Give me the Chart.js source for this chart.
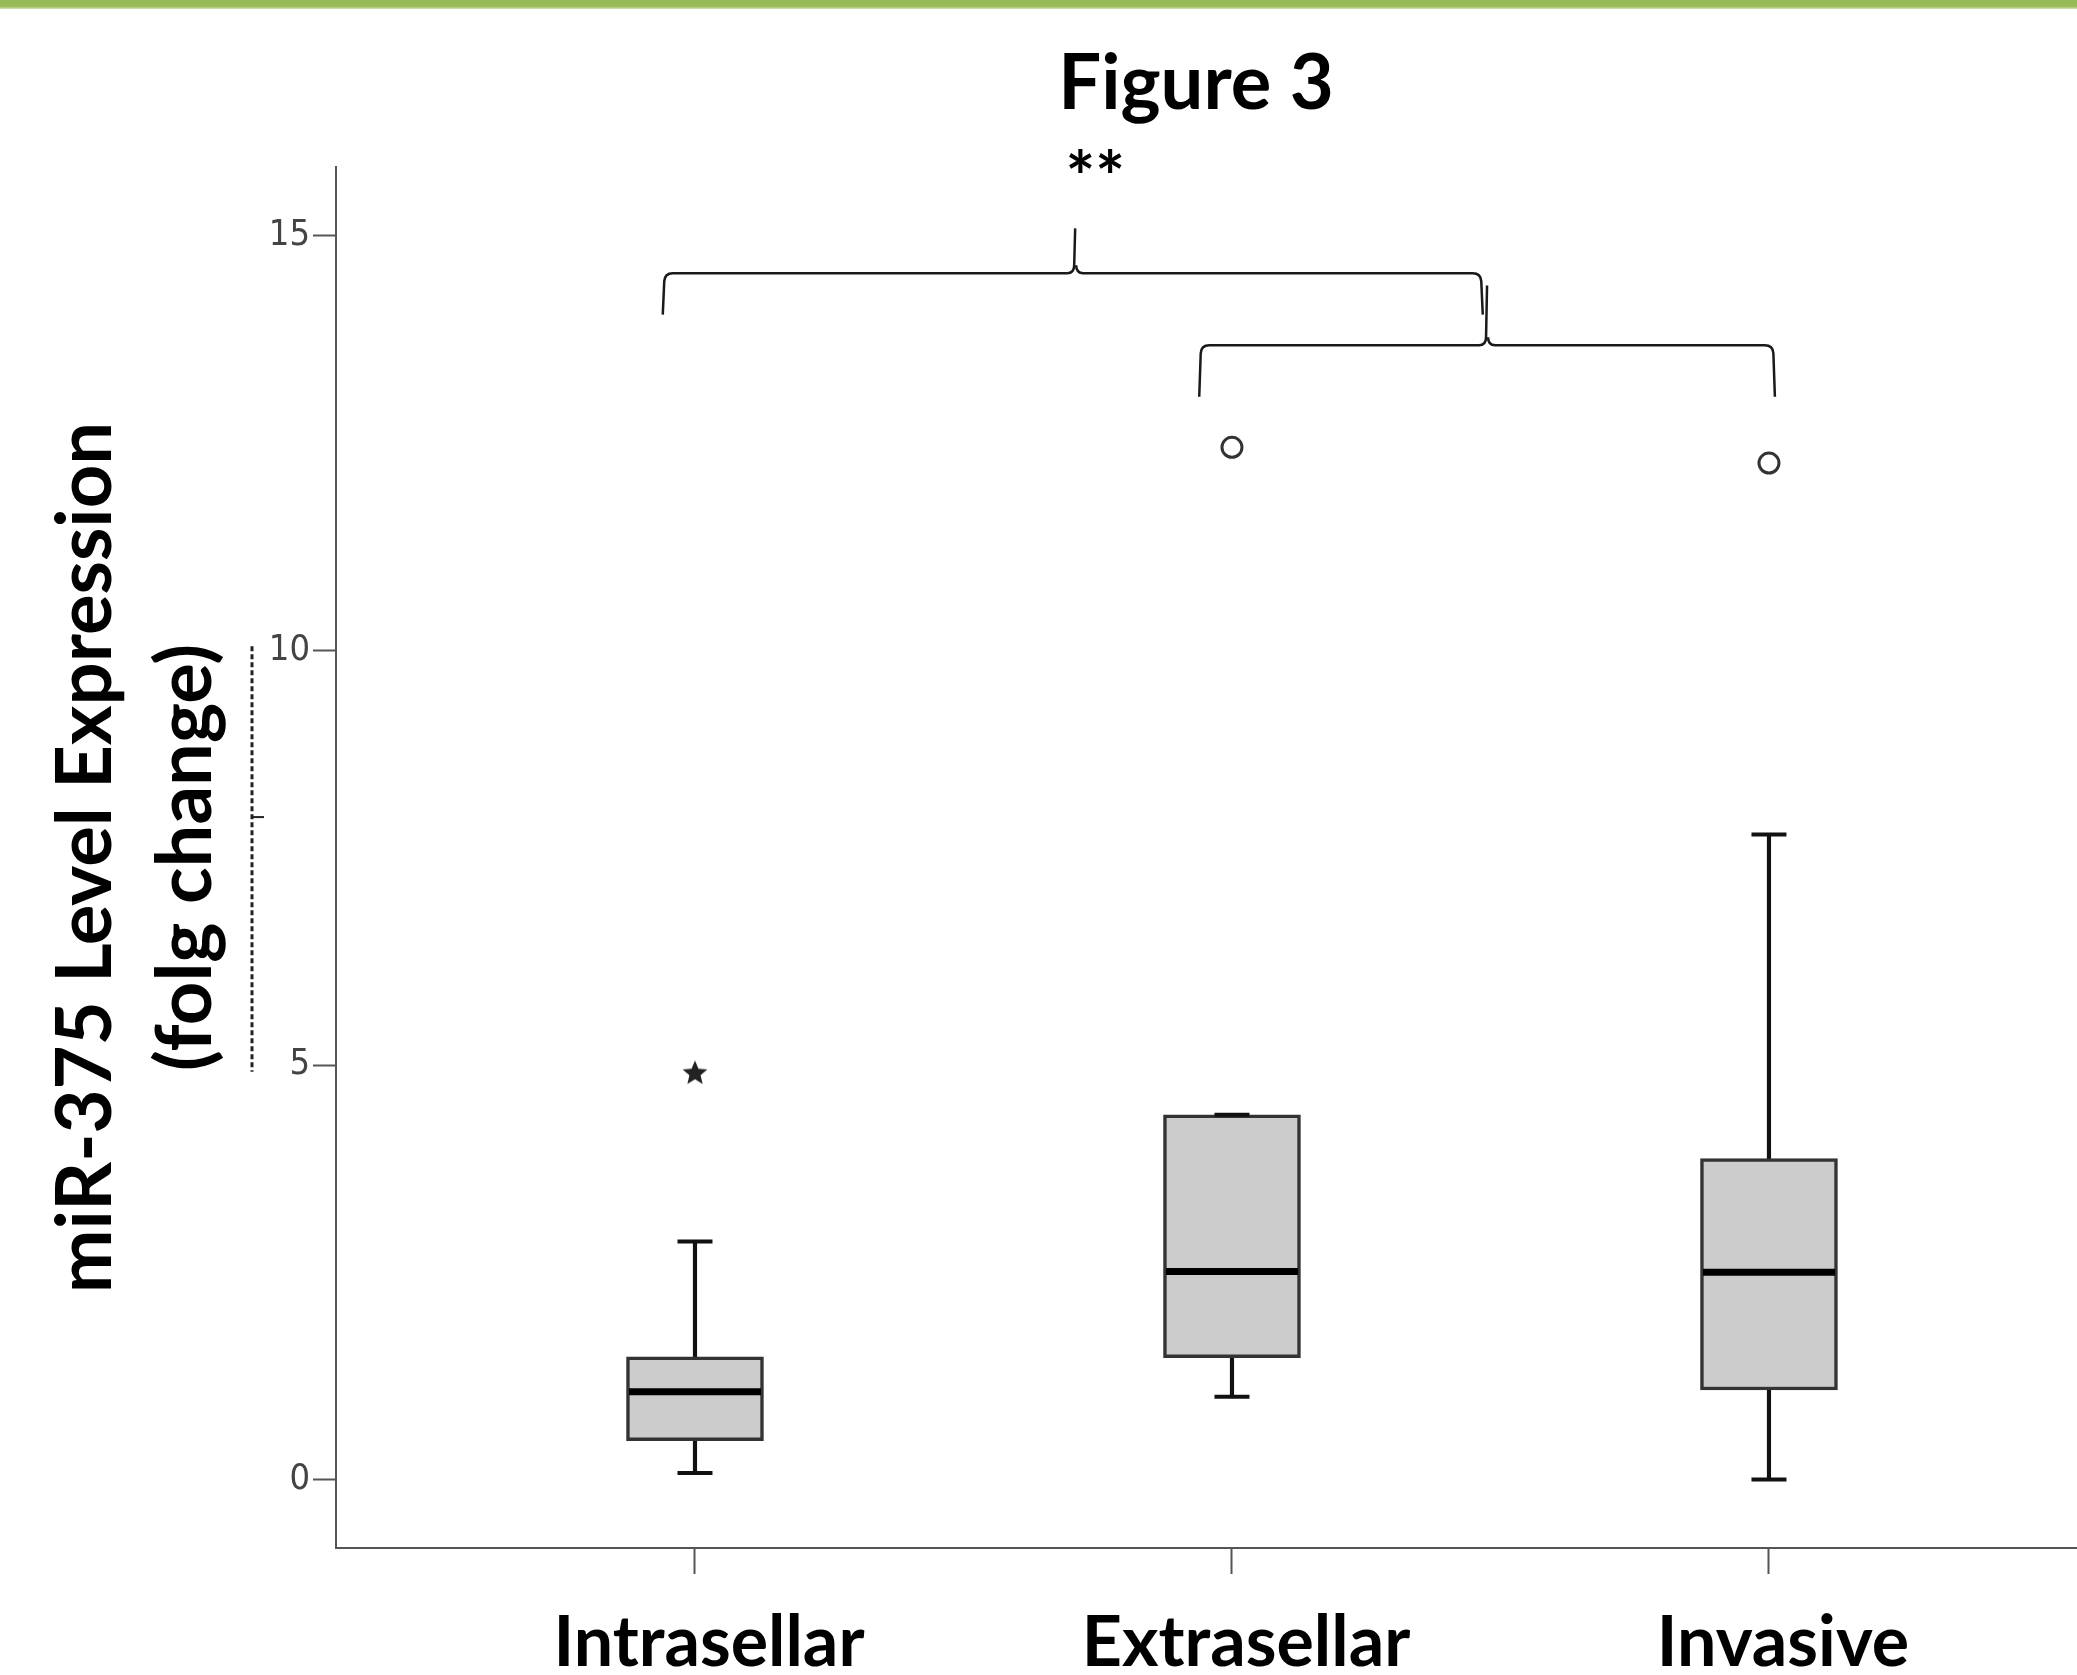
<!DOCTYPE html>
<html>
<head>
<meta charset="utf-8">
<title>Figure 3</title>
<script src="https://cdn.jsdelivr.net/npm/chart.js@4.4.1/dist/chart.umd.min.js"></script>
<style>
  html, body { margin: 0; padding: 0; background: #ffffff; }
  #wrap { position: relative; width: 2077px; height: 1675px; overflow: hidden; background: #ffffff; }
  #band { position: absolute; left: 0; top: 0; width: 100%; height: 9px; z-index: 2;
          background: linear-gradient(#97b856 0%, #9bbb59 70%, #d3e3b4 100%); }
  canvas { position: absolute; left: 0; top: 0; }
</style>
</head>
<body>
<div id="wrap">
  <div id="band"></div>
  <canvas id="chart" width="2077" height="1675"></canvas>
</div>
<script>
// Box plot summary per tumour group (fold change)
const categories   = ['Intrasellar', 'Extrasellar', 'Invasive'];
const whiskerLow   = [0.08, 1.00, 0.00];
const quartile1    = [0.47, 1.47, 1.08];
const medians      = [1.06, 2.51, 2.50];
const quartile3    = [1.48, 4.40, 3.87];
const whiskerHigh  = [2.87, 4.40, 7.78];

// Individual cases beyond the whiskers
const outlierGroups = ['Extrasellar', 'Invasive'];
const outlierValues = [12.45, 12.26];
const extremeGroups = ['Intrasellar'];
const extremeValues = [4.91];

const yTickValues = [0, 5, 10, 15];
const yAxisTitle  = ['miR-375 Level Expression', '(folg change)'];
const chartTitle  = 'Figure 3';
const significance = '**';

const pos = name => categories.indexOf(name) + 1;

// Comparison braces, in axis units
const braces = [
  { x1: 0.94, x2: 2.467, tip: 1.708, level: 14.55, ends: 14.05, top: 15.09 },
  { x1: 1.939, x2: 3.011, tip: 2.475, level: 13.68, ends: 13.06, top: 14.40 }
];

// Five-pointed star marker for extreme values
function starGlyph(size, color) {
  const c = document.createElement('canvas');
  c.width = c.height = size;
  const g = c.getContext('2d');
  const cx = size / 2, R = size / 2 - 1, r = R * 0.45;
  g.beginPath();
  for (let k = 0; k < 10; k++) {
    const a = -Math.PI / 2 + k * Math.PI / 5;
    const rad = k % 2 ? r : R;
    g.lineTo(cx + rad * Math.cos(a), cx + 1 + rad * Math.sin(a));
  }
  g.closePath();
  g.fillStyle = color;
  g.fill();
  return c;
}

function drawBrace(ctx, x1, x2, xm, yl, ye, yt, r) {
  ctx.beginPath();
  ctx.moveTo(x1, ye);
  ctx.lineTo(x1 + 1.5, yl + r);
  ctx.quadraticCurveTo(x1 + 2, yl, x1 + 2 + r, yl);
  ctx.lineTo(xm - r, yl);
  ctx.quadraticCurveTo(xm - 1, yl, xm - 1, yl - r);
  ctx.lineTo(xm, yt);
  ctx.moveTo(xm + 1, yl - r);
  ctx.quadraticCurveTo(xm + 1, yl, xm + r, yl);
  ctx.lineTo(x2 - 2 - r, yl);
  ctx.quadraticCurveTo(x2 - 2, yl, x2 - 1.5, yl + r);
  ctx.lineTo(x2, ye);
  ctx.stroke();
}

const decorations = {
  id: 'decorations',
  afterDraw(chart) {
    const { ctx, chartArea, scales: { x, y } } = chart;
    ctx.save();

    // Figure heading
    ctx.fillStyle = '#000';
    ctx.font = 'bold 76px Lato';
    ctx.textAlign = 'center';
    ctx.textBaseline = 'alphabetic';
    ctx.fillText(chartTitle, 1196, 109);

    // Comparison braces
    ctx.strokeStyle = '#1a1a1a';
    ctx.lineWidth = 2.5;
    braces.forEach(b => {
      drawBrace(ctx, x.getPixelForValue(b.x1), x.getPixelForValue(b.x2), x.getPixelForValue(b.tip),
        y.getPixelForValue(b.level), y.getPixelForValue(b.ends), y.getPixelForValue(b.top), 8);
    });

    // Significance mark above the outer brace
    ctx.font = 'bold 70px Lato';
    ctx.textBaseline = 'alphabetic';
    ctx.fillText(significance, x.getPixelForValue(braces[0].tip) + 20, 203);

    // Dotted guide left of the value axis
    const gx = chartArea.left - 84;
    ctx.strokeStyle = '#222';
    ctx.lineWidth = 3;
    ctx.setLineDash([5, 3]);
    ctx.beginPath();
    ctx.moveTo(gx, y.getPixelForValue(10.05));
    ctx.lineTo(gx, y.getPixelForValue(4.92));
    ctx.stroke();
    ctx.setLineDash([]);
    ctx.lineWidth = 2;
    ctx.beginPath();
    ctx.moveTo(gx, y.getPixelForValue(7.99));
    ctx.lineTo(gx + 12, y.getPixelForValue(7.99));
    ctx.stroke();

    ctx.restore();
  }
};

const boxData     = categories.map((c, i) => ({ x: i + 1, y: [quartile1[i], quartile3[i]] }));
const upperStem   = categories.map((c, i) => ({ x: i + 1, y: [quartile3[i], whiskerHigh[i]] }));
const lowerStem   = categories.map((c, i) => ({ x: i + 1, y: [whiskerLow[i], quartile1[i]] }));
const capData     = categories.flatMap((c, i) => [{ x: i + 1, y: whiskerLow[i] }, { x: i + 1, y: whiskerHigh[i] }]);
const medianData  = categories.map((c, i) => ({ x: i + 1, y: medians[i] }));
const outlierData = outlierGroups.map((g, i) => ({ x: pos(g), y: outlierValues[i] }));
const extremeData = extremeGroups.map((g, i) => ({ x: pos(g), y: extremeValues[i] }));

new Chart(document.getElementById('chart'), {
  type: 'bar',
  data: {
    datasets: [
      { type: 'bar', data: upperStem, backgroundColor: '#111', borderWidth: 0, barThickness: 3.5, grouped: false, order: 4 },
      { type: 'bar', data: lowerStem, backgroundColor: '#111', borderWidth: 0, barThickness: 3.5, grouped: false, order: 4 },
      { type: 'bar', data: boxData, backgroundColor: '#cccccc', borderColor: '#333', borderWidth: 3.5,
        borderSkipped: false, barThickness: 137, grouped: false, order: 3 },
      { type: 'scatter', data: capData, pointStyle: 'line', radius: 17.5, borderWidth: 4, borderColor: '#111', order: 2 },
      { type: 'scatter', data: medianData, pointStyle: 'line', radius: 66, borderWidth: 7, borderColor: '#000', order: 1 },
      { type: 'scatter', data: outlierData, pointStyle: 'circle', radius: 10, borderWidth: 3,
        borderColor: '#333', backgroundColor: '#fff', order: 0 },
      { type: 'scatter', data: extremeData, pointStyle: starGlyph(28, '#222'), order: 0 }
    ]
  },
  options: {
    responsive: false,
    animation: false,
    events: [],
    layout: { autoPadding: false, padding: { top: 167, left: 0, right: 0, bottom: 0 } },
    plugins: { legend: { display: false }, tooltip: { enabled: false }, title: { display: false } },
    scales: {
      x: {
        type: 'linear',
        min: 0.3315,
        max: 3.5736,
        offset: false,
        afterBuildTicks: s => { s.ticks = categories.map((c, i) => ({ value: i + 1 })); },
        afterFit: s => { s.height = 127; s.paddingLeft = 0; s.paddingRight = 0; },
        ticks: {
          callback: v => categories[v - 1] ?? '',
          font: { family: 'Lato', weight: 'bold', size: 70 },
          color: '#000',
          padding: 27,
          labelOffset: 14,
          autoSkip: false,
          maxRotation: 0
        },
        grid: { offset: false, drawOnChartArea: false, drawTicks: true, tickLength: 26, tickWidth: 2, tickColor: '#555' },
        border: { display: true, color: '#555', width: 2 }
      },
      y: {
        type: 'linear',
        min: -0.825,
        max: 15.83,
        afterBuildTicks: s => { s.ticks = yTickValues.map(v => ({ value: v })); },
        afterFit: s => { s.width = 336; s.paddingTop = 0; s.paddingBottom = 0; },
        ticks: {
          font: { family: '"Liberation Sans Narrow", "DejaVu Sans Condensed", "Liberation Sans", sans-serif', size: 36 },
          color: '#444',
          padding: 3
        },
        grid: { drawOnChartArea: false, drawTicks: true, tickLength: 23, tickWidth: 2, tickColor: '#555' },
        border: { display: true, color: '#555', width: 2 },
        title: {
          display: true,
          text: yAxisTitle,
          color: '#000',
          font: { family: 'Lato', weight: 'bold', size: 76, lineHeight: 1.316 },
          padding: { top: 36, bottom: 0 }
        }
      }
    }
  },
  plugins: [decorations]
});
</script>
</body>
</html>
